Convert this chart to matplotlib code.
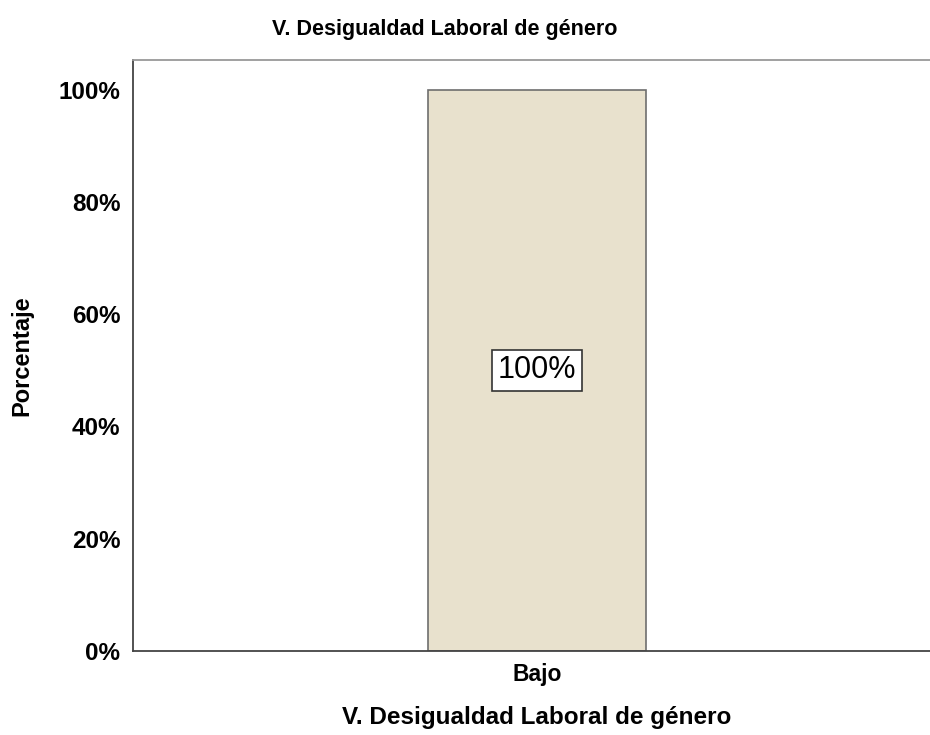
import matplotlib
matplotlib.use("Agg")
import matplotlib.pyplot as plt
from matplotlib.ticker import PercentFormatter

categories = ["Bajo"]
percentages = [100.0]
yticks = [0, 20, 40, 60, 80, 100]
title = "V. Desigualdad Laboral de género"
xlabel = "V. Desigualdad Laboral de género"
ylabel = "Porcentaje"

plt.rcParams["font.family"] = ["Liberation Sans", "DejaVu Sans"]

fig = plt.figure(figsize=(9.3, 7.35), dpi=100)
# axes run past the right edge of the figure, as in the original export
ax = fig.add_axes([133 / 930, (735 - 651) / 735, 808 / 930, 591 / 735])

x = list(range(len(categories)))
ax.bar(x, percentages, width=0.27, color="#e8e1cd", edgecolor="#6e6e6e", linewidth=1.2)
ax.set_xlim(-0.5, 0.5)
ax.set_ylim(0, 105.3)

for xi, v in zip(x, percentages):
    ax.text(xi, v / 2, f"{v:.0f}%", ha="center", va="center", fontsize=22,
            bbox=dict(boxstyle="square,pad=0.18", fc="white", ec="#333333", lw=1.2))

ax.set_xticks(x)
ax.set_xticklabels(categories, fontsize=16.5, fontweight="bold")
ax.set_yticks(yticks)
ax.yaxis.set_major_formatter(PercentFormatter(decimals=0))
for lab in ax.get_yticklabels():
    lab.set_fontsize(17.5)
    lab.set_fontweight("bold")
ax.tick_params(axis="y", length=0, pad=9)
ax.tick_params(axis="x", length=0, pad=9)

ax.spines["right"].set_visible(False)
ax.spines["left"].set_color("#444444")
ax.spines["bottom"].set_color("#444444")
ax.spines["top"].set_color("#999999")
for s in ax.spines.values():
    s.set_linewidth(1.3)

ax.set_xlabel(xlabel, fontsize=17.5, fontweight="bold", labelpad=14)
ax.set_ylabel(ylabel, fontsize=17, fontweight="bold", labelpad=18)
fig.text(445 / 930, 1 - 30 / 735, title, ha="center", va="center",
         fontsize=15.5, fontweight="bold")

fig.savefig("out.png", dpi=100)
